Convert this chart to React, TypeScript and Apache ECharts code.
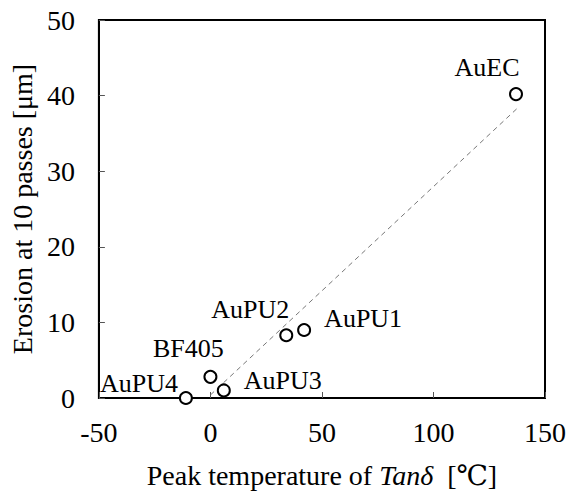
import React, { useEffect, useRef } from "react";
import * as echarts from "echarts";

const sampleNames = ["AuEC", "AuPU1", "AuPU2", "AuPU3", "BF405", "AuPU4"];
const peakTemp = [137, 42, 34, 6, 0, -11];
const erosion = [40.2, 9.0, 8.3, 1.0, 2.8, 0.0];

const fitX = [0, 137.5];
const fitY = [0.4, 38.3];

const xTicks = { min: -50, max: 150, interval: 50 };
const yTicks = { min: 0, max: 50, interval: 10 };

// label offsets (px) from point centre to label centre
const labelOffsets: Record<string, [number, number]> = {
  AuEC: [-29, -27],
  AuPU1: [59, -11],
  AuPU2: [-36, -26],
  AuPU3: [59, -10],
  BF405: [-22, -28],
  AuPU4: [-47, -15],
};

const FONT = "'Liberation Serif', 'DejaVu Serif', 'Times New Roman', serif";

export default function App() {
  const ref = useRef<HTMLDivElement>(null);
  useEffect(() => {
    if (!ref.current) return;
    const chart = echarts.init(ref.current, null, { renderer: "svg" });
    const scatterData = sampleNames.map((n, i) => ({
      name: n,
      value: [peakTemp[i], erosion[i]],
      label: {
        show: true,
        formatter: n,
        position: "inside",
        offset: labelOffsets[n],
        align: "center",
        verticalAlign: "middle",
        fontFamily: FONT,
        fontSize: 26,
        color: "#000",
      },
    }));
    chart.setOption({
      animation: false,
      backgroundColor: "#fff",
      grid: {
        left: 91,
        top: 20,
        right: 22,
        bottom: 95,
        show: true,
        borderColor: "#000",
        borderWidth: 2,
        backgroundColor: "transparent",
      },
      xAxis: {
        type: "value",
        min: xTicks.min,
        max: xTicks.max,
        interval: xTicks.interval,
        splitLine: { show: false },
        axisLine: { show: true, onZero: false, lineStyle: { color: "#000", width: 2 } },
        axisTick: { show: true, inside: true, length: 6, lineStyle: { color: "#555", width: 1 } },
        axisLabel: { color: "#000", fontFamily: FONT, fontSize: 28, margin: 20 },
        name: "Peak temperature of {i|Tanδ}  [℃]",
        nameLocation: "middle",
        nameGap: 63,
        nameTextStyle: {
          color: "#000",
          fontFamily: FONT,
          fontSize: 28,
          rich: {
            i: { fontFamily: FONT, fontStyle: "italic", fontSize: 28, color: "#000" },
          },
        },
      },
      yAxis: {
        type: "value",
        min: yTicks.min,
        max: yTicks.max,
        interval: yTicks.interval,
        splitLine: { show: false },
        axisLine: { show: true, onZero: false, lineStyle: { color: "#000", width: 2 } },
        axisTick: { show: true, inside: true, length: 6, lineStyle: { color: "#555", width: 1 } },
        axisLabel: { color: "#000", fontFamily: FONT, fontSize: 28, margin: 24 },
        name: "Erosion at 10 passes [μm]",
        nameLocation: "middle",
        nameGap: 53,
        nameTextStyle: { color: "#000", fontFamily: FONT, fontSize: 28 },
      },
      series: [
        {
          type: "line",
          data: fitX.map((x, i) => [x, fitY[i]]),
          symbol: "none",
          silent: true,
          lineStyle: { color: "#777", width: 1, type: [5, 4] },
          z: 1,
        },
        {
          type: "scatter",
          data: scatterData,
          symbol: "circle",
          symbolSize: 12,
          itemStyle: { color: "#fff", borderColor: "#000", borderWidth: 2, opacity: 1 },
          z: 3,
        },
      ],
    });
    return () => chart.dispose();
  }, []);
  return (
    <div
      ref={ref}
      style={{ position: "fixed", left: 0, top: 0, width: 569, height: 494 }}
    />
  );
}
